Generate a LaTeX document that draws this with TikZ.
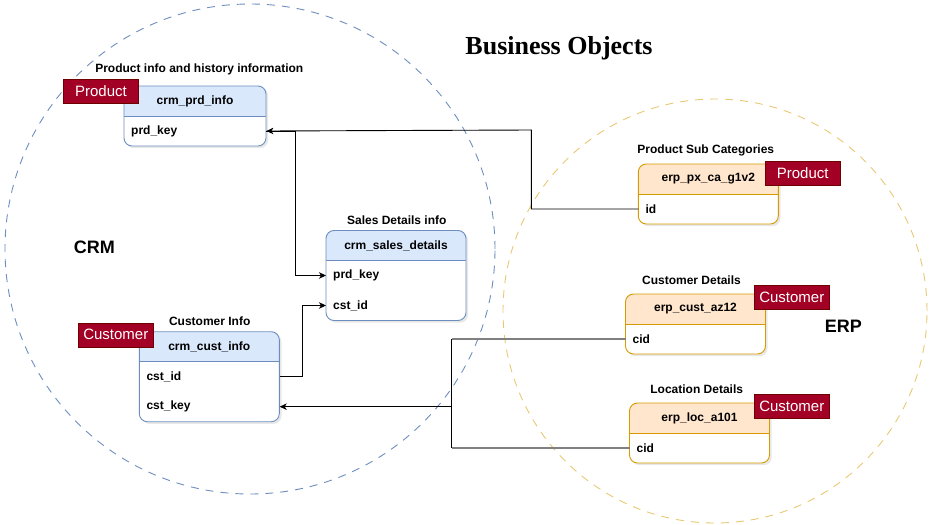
\documentclass[tikz,border=0pt]{standalone}
\usepackage{fontspec}
\setmainfont{Liberation Sans}
\newfontfamily\titlefont{Liberation Serif}
\usetikzlibrary{arrows.meta,shadows,calc}
\definecolor{bluefill}{HTML}{DAE8FC}
\definecolor{bluestroke}{HTML}{6C8EBF}
\definecolor{orfill}{HTML}{FFE6CC}
\definecolor{orstroke}{HTML}{D79B00}
\definecolor{tagfill}{HTML}{A20025}
\definecolor{tagstroke}{HTML}{6F0000}
\tikzset{
  lbl/.style={font=\bfseries\fontsize{12}{14}\selectfont, inner sep=0pt},
  fieldtxt/.style={font=\bfseries\fontsize{12}{14}\selectfont, inner sep=0pt, anchor=west},
  tag/.style={draw=tagstroke, fill=tagfill, text=white, minimum width=75pt, minimum height=24pt, inner sep=0pt, font=\fontsize{15}{17}\selectfont},
  tbody/.style={fill=white, rounded corners=8pt, minimum height=60pt, minimum width=140pt, anchor=north west, inner sep=0pt,
    drop shadow={opacity=0.18, shadow xshift=2pt, shadow yshift=-2pt}},
  conn/.style={draw=black, line width=0.9pt},
  gconn/.style={draw=gray, line width=1.3pt},
  tip/.style={-{Stealth[length=7pt,width=6.5pt,inset=2pt]}},
  zone/.style={circle, dash pattern=on 8pt off 7pt, line width=0.9pt, inner sep=0pt},
}
% name, x, y, w, h, fill, stroke, title
\newcommand{\erbox}[8]{%
  \node[tbody, minimum width=#4pt, minimum height=#5pt] (#1) at (#2,#3) {};
  \begin{scope}
    \clip[rounded corners=8pt] (#2,#3) rectangle ++(#4,#5);
    \fill[#6] (#2,#3) rectangle ++(#4,30);
  \end{scope}
  \draw[#7, line width=0.9pt] (#2,#3+30) -- ++(#4,0);
  \draw[#7, line width=0.9pt, rounded corners=8pt] (#2,#3) rectangle ++(#4,#5);
  \node[lbl] (#1-title) at (#2+#4/2,#3+15) {#8};
}
\begin{document}
\begin{tikzpicture}[x=1pt,y=-1pt]
\useasboundingbox (0,0) rectangle (930,525);

% zones
\node[zone, draw=bluestroke, minimum size=490pt] (crmzone) at (250,249) {};
\node[zone, draw=orstroke!55, minimum size=424pt] (erpzone) at (715,311) {};

% title and zone labels
\node[font=\titlefont\bfseries\fontsize{26}{30}\selectfont, inner sep=0pt] (title) at (559,48) {Business Objects};
\node[font=\bfseries\fontsize{18}{20}\selectfont, inner sep=0pt] (crmlbl) at (94.3,247.3) {CRM};
\node[font=\bfseries\fontsize{18}{20}\selectfont, inner sep=0pt] (erplbl) at (843.3,326) {ERP};

% tables
\erbox{crmprd}{124}{86}{142}{60}{bluefill}{bluestroke}{crm\_prd\_info}
\node[fieldtxt] (prdkey) at (131,131) {prd\_key};
\node[lbl] (crmprdlbl) at (199.3,69.3) {Product info and history information};

\erbox{sales}{326}{230.5}{140}{90}{bluefill}{bluestroke}{crm\_sales\_details}
\node[fieldtxt] (sprdkey) at (333,275.5) {prd\_key};
\node[fieldtxt] (scstid) at (333,305.5) {cst\_id};
\node[lbl] (saleslbl) at (396.8,220.7) {Sales Details info};

\erbox{cust}{139.3}{331.7}{140}{90}{bluefill}{bluestroke}{crm\_cust\_info}
\node[fieldtxt] (cstid) at (146.3,376.7) {cst\_id};
\node[fieldtxt] (cstkey) at (146.3,406.7) {cst\_key};
\node[lbl] (custlbl) at (209.7,321.7) {Customer Info};

\erbox{erppx}{638.3}{164}{140}{60}{orfill}{orstroke}{erp\_px\_ca\_g1v2}
\node[fieldtxt] (pxid) at (645.3,209) {id};
\node[lbl] (erppxlbl) at (705.8,150.7) {Product Sub Categories};

\erbox{erpcust}{625.5}{294}{140}{60}{orfill}{orstroke}{erp\_cust\_az12}
\node[fieldtxt] (cid1) at (632.5,339) {cid};
\node[lbl] (erpcustlbl) at (691.5,280.7) {Customer Details};

\erbox{erploc}{629.5}{403}{140}{60}{orfill}{orstroke}{erp\_loc\_a101}
\node[fieldtxt] (cid2) at (636.5,448) {cid};
\node[lbl] (erploclbl) at (696.7,389.7) {Location Details};

% tags
\node[tag] (tagprd1) at (101,91.5) {Product};
\node[tag] (tagcust1) at (115.8,334.7) {Customer};
\node[tag] (tagprd2) at (802.7,173.5) {Product};
\node[tag] (tagcust2) at (791.8,297.5) {Customer};
\node[tag] (tagcust3) at (791.8,406.5) {Customer};

% connectors
\coordinate (j1) at (531.3,130);
\coordinate (j2) at (295.7,200);
\coordinate (j3) at (302.3,340);
\coordinate (j4) at (451.7,406.7);

\draw[conn, tip] (erppx.west |- pxid) -| (j1) -- (crmprd.east |- prdkey);
\draw[conn, tip] (crmprd.east |- prdkey) -| (j2) |- (sales.west |- sprdkey);
\draw[conn, tip] (cust.east |- cstid) -| (j3) |- (sales.west |- scstid);

\draw[gconn] (erpcust.west |- cid1) -- (j4 |- cid1);
\draw[gconn] (erploc.west |- cid2) -- (j4 |- cid2);
\draw[conn] (j4 |- cid1) -- (j4 |- cid2);
\draw[conn, tip] (j4) -- (cust.east |- cstkey);
\end{tikzpicture}
\end{document}
